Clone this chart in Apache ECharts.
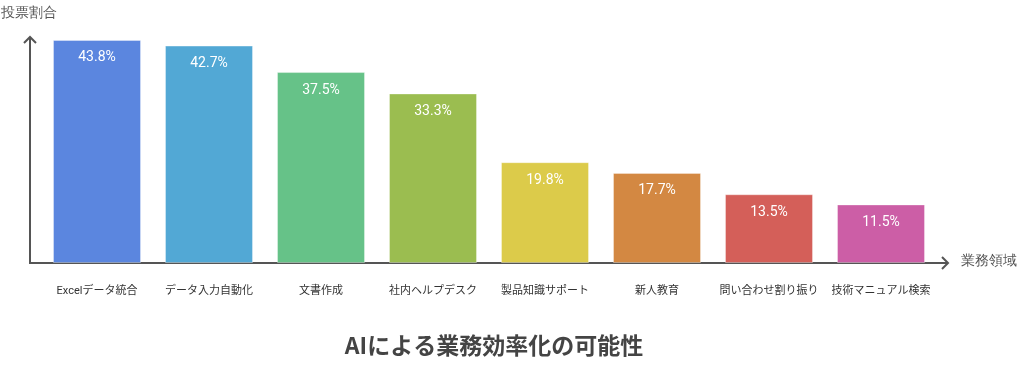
<!DOCTYPE html>
<html>
<head>
<meta charset="utf-8">
<script src="https://cdn.jsdelivr.net/npm/echarts@6/dist/echarts.min.js"></script>
<style>
html,body{margin:0;padding:0;background:#fff;}
#chart{width:1024px;height:383px;}
</style>
</head>
<body>
<div id="chart"></div>
<script>
const categories = ['Excelデータ統合','データ入力自動化','文書作成','社内ヘルプデスク','製品知識サポート','新人教育','問い合わせ割り振り','技術マニュアル検索'];
const values = [43.8, 42.7, 37.5, 33.3, 19.8, 17.7, 13.5, 11.5];
const colors = ['#5b86df','#52a8d5','#66c288','#9bbd50','#dccb4a','#d38842','#d45f59','#cc5ea6'];
const titleText = 'AIによる業務効率化の可能性';
const yName = '投票割合';
const xName = '業務領域';

const FONT = 'Roboto, "Noto Sans CJK JP", sans-serif';
const chart = echarts.init(document.getElementById('chart'));
const axisColor = '#555';
chart.setOption({
  animation: false,
  backgroundColor: '#fff',
  title: {
    text: titleText,
    left: 489, top: 329, textAlign: 'center',
    textStyle: {fontSize: 23, fontWeight: 'bold', color: '#444', fontFamily: '"Noto Sans CJK JP", sans-serif'}
  },
  grid: {left: 41, right: 87, top: 40, bottom: 120},
  xAxis: {
    type: 'category', data: categories,
    axisLine: {show: false}, axisTick: {show: false},
    axisLabel: {margin: 23, fontSize: 11, color: '#333', fontFamily: FONT, interval: 0}
  },
  yAxis: {type: 'value', min: 0, max: 43.8, show: false, splitLine: {show: false}},
  series: [{
    type: 'bar',
    barWidth: 88,
    data: values.map((v, i) => ({value: v, itemStyle: {color: colors[i]}})),
    itemStyle: {borderColor: 'rgba(255,255,255,0.35)', borderWidth: 1},
    label: {
      show: true, position: 'insideTop', distance: 11,
      formatter: p => p.value.toFixed(1) + '%',
      color: '#fff', fontSize: 14, fontFamily: FONT
    }
  }],
  graphic: [
    {type: 'line', shape: {x1: 30, y1: 263, x2: 30, y2: 37}, style: {stroke: axisColor, lineWidth: 2}},
    {type: 'polyline', shape: {points: [[24,43],[30,37],[36,43]]}, style: {stroke: axisColor, lineWidth: 2, fill: null}},
    {type: 'line', shape: {x1: 29, y1: 263, x2: 948, y2: 263}, style: {stroke: axisColor, lineWidth: 2}},
    {type: 'polyline', shape: {points: [[942,257],[948,263],[942,269]]}, style: {stroke: axisColor, lineWidth: 2, fill: null}},
    {type: 'text', left: 1, top: 6, style: {text: yName, fontSize: 14, fill: '#555', font: '14px "Noto Sans CJK JP", sans-serif'}},
    {type: 'text', left: 961, top: 254, style: {text: xName, fontSize: 14, fill: '#555', font: '14px "Noto Sans CJK JP", sans-serif'}}
  ]
});
</script>
</body>
</html>
